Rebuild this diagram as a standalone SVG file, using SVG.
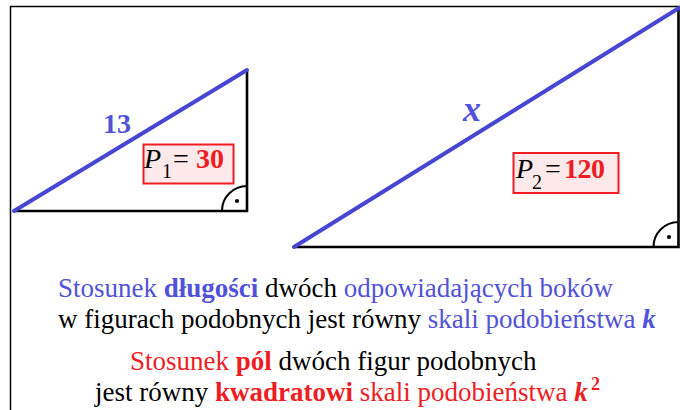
<svg xmlns="http://www.w3.org/2000/svg" width="680" height="410" viewBox="0 0 680 410">
<style>
text{font-family:"Liberation Serif","Times New Roman",serif;}
.leg{stroke:#000;stroke-width:2.6;fill:none;}
.hyp{stroke:#4646d2;stroke-width:4;stroke-linecap:round;fill:none;}
.arc{stroke:#000;stroke-width:2;fill:none;}
.box{fill:#fde9ea;stroke:#ee1d23;stroke-width:2;}
.blue{fill:#5252d8;}
.red{fill:#ee1d23;}
.blk{fill:#000;}
.b{font-weight:bold;}
.i{font-style:italic;}
.t{font-size:27px;}
</style>
<rect width="680" height="410" fill="#fff"/>
<g id="frame">
<path d="M10.5 410 V6.5 H680" stroke="#000" stroke-width="1.5" fill="none"/>
</g>
<g id="triangle1">
<path class="leg" d="M14 211 H247 V70"/>
<path class="arc" d="M222 211 A25 25 0 0 1 247 186"/>
<circle cx="237" cy="201" r="2.1" fill="#000"/>
<line class="hyp" x1="14" y1="211" x2="247" y2="70"/>
<text x="103" y="133" class="blue b" font-size="28">13</text>
<g id="label1">
<rect class="box" x="143.5" y="144.5" width="90" height="39"/>
<text x="144" y="168" class="blk i" font-size="28">P</text>
<text x="162" y="178" class="blk" font-size="20">1</text>
<text x="173" y="168" class="blk" font-size="28">=</text>
<text x="196" y="168" class="red b" font-size="28">30</text>
</g>
</g>
<g id="triangle2">
<path class="leg" d="M294 247 H678.5 V8"/>
<path class="arc" d="M653.5 247 A25 25 0 0 1 678.5 222"/>
<circle cx="669" cy="237" r="2.1" fill="#000"/>
<line class="hyp" x1="294" y1="247" x2="679" y2="8"/>
<text x="463" y="121" class="blue b i" font-size="36">x</text>
<g id="label2">
<rect class="box" x="513.5" y="153" width="105" height="40"/>
<text x="516" y="178" class="blk i" font-size="28">P</text>
<text x="532" y="189" class="blk" font-size="20">2</text>
<text x="545" y="178" class="blk" font-size="28">=</text>
<text x="564" y="178" class="red b" font-size="28" letter-spacing="-0.5">120</text>
</g>
</g>
<g id="caption">
<text x="58" y="297" class="t"><tspan class="blue">Stosunek </tspan><tspan class="blue b">długości</tspan><tspan class="blk"> dwóch </tspan><tspan class="blue">odpowiadających boków</tspan></text>
<text x="58" y="328" class="t"><tspan class="blk">w figurach podobnych jest równy </tspan><tspan class="blue">skali podobieństwa </tspan><tspan class="blue b i">k</tspan></text>
<text x="130" y="370" class="t"><tspan class="red">Stosunek </tspan><tspan class="red b">pól</tspan><tspan class="blk"> dwóch figur podobnych</tspan></text>
<text x="95" y="401" class="t"><tspan class="blk">jest równy </tspan><tspan class="red b">kwadratowi</tspan><tspan class="red"> skali podobieństwa </tspan><tspan class="red b i">k</tspan></text>
<text x="591" y="390" class="red b" font-size="18">2</text>
</g>
</svg>
